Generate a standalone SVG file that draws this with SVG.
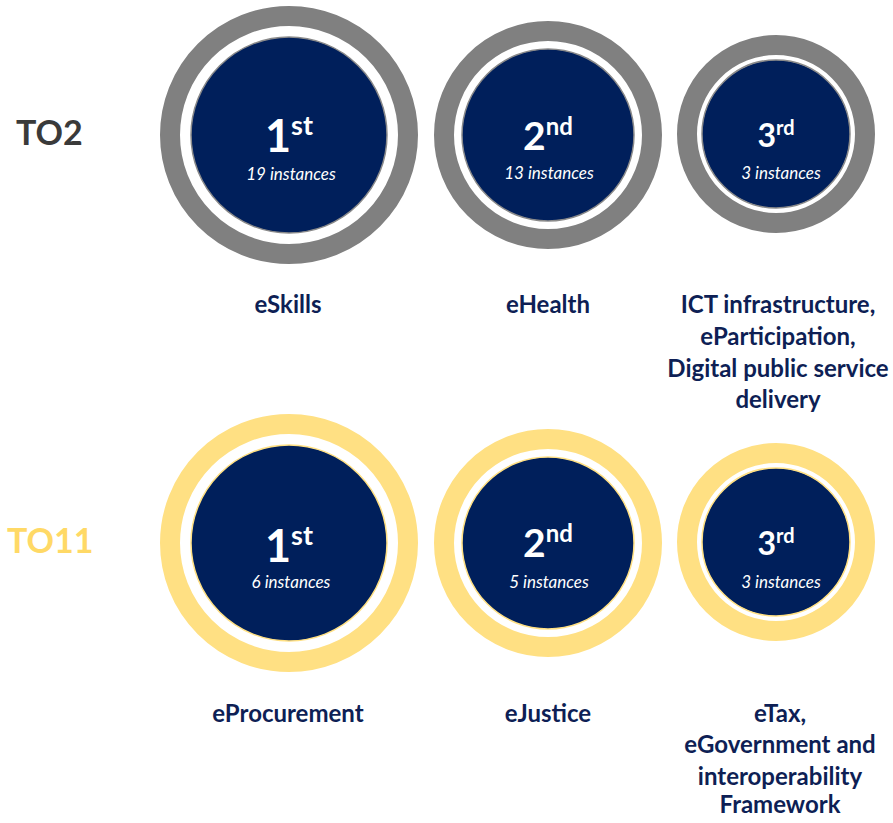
<svg xmlns="http://www.w3.org/2000/svg" width="893" height="823" viewBox="0 0 893 823">
<style>
.ring-g{fill:none;stroke:#808080;stroke-width:20}
.ring-y{fill:none;stroke:#FFE083;stroke-width:20}
.core-g{fill:#001F5B;stroke:#8A8A8A;stroke-width:1.5}
.core-y{fill:#001F5B;stroke:#FFE083;stroke-width:1.5}
.rank{font-family:Lato,"Open Sans",sans-serif;font-weight:700;fill:#FFFFFF;text-anchor:middle}
.inst{font-family:Lato,"Open Sans",sans-serif;font-style:italic;font-size:17px;fill:#FFFFFF;text-anchor:middle}
.lbl{font-family:Lato,"Open Sans",sans-serif;font-weight:700;font-size:24px;fill:#0E1F55;text-anchor:middle}
.row{font-family:Lato,"Open Sans",sans-serif;font-weight:700;font-size:34px}
</style>
<rect width="893" height="823" fill="#FFFFFF"/>
<g id="row-labels">
<text class="row" x="16" y="145" fill="#3A3A3A">TO2</text>
<text class="row" x="7" y="553" fill="#FFD966">TO11</text>
</g>
<g id="to2-1st">
<circle class="ring-g" cx="289" cy="135" r="119"/>
<circle class="core-g" cx="289" cy="135" r="98"/>
<text class="rank" x="289" y="152" font-size="45">1<tspan font-size="27" dy="-17">st</tspan></text>
<text class="inst" x="291" y="180">19 instances</text>
<text class="lbl" x="288" y="313">eSkills</text>
</g>
<g id="to2-2nd">
<circle class="ring-g" cx="548" cy="135" r="104"/>
<circle class="core-g" cx="548" cy="135" r="86"/>
<text class="rank" x="548" y="150" font-size="39">2<tspan font-size="24" dy="-15">nd</tspan></text>
<text class="inst" x="549" y="179">13 instances</text>
<text class="lbl" x="548" y="313">eHealth</text>
</g>
<g id="to2-3rd">
<circle class="ring-g" cx="776" cy="134" r="89"/>
<circle class="core-g" cx="776" cy="134" r="74"/>
<text class="rank" x="776" y="147" font-size="32">3<tspan font-size="20" dy="-12">rd</tspan></text>
<text class="inst" x="781" y="179">3 instances</text>
<text class="lbl" x="778" y="313">ICT infrastructure,</text>
<text class="lbl" x="778" y="345">eParticipation,</text>
<text class="lbl" x="778" y="377">Digital public service</text>
<text class="lbl" x="778" y="408">delivery</text>
</g>
<g id="to11-1st">
<circle class="ring-y" cx="289" cy="543" r="119"/>
<circle class="core-y" cx="289" cy="543" r="98"/>
<text class="rank" x="289" y="562" font-size="45">1<tspan font-size="27" dy="-17">st</tspan></text>
<text class="inst" x="291" y="588">6 instances</text>
<text class="lbl" x="288" y="722">eProcurement</text>
</g>
<g id="to11-2nd">
<circle class="ring-y" cx="548" cy="543" r="104"/>
<circle class="core-y" cx="548" cy="543" r="86"/>
<text class="rank" x="548" y="557" font-size="39">2<tspan font-size="24" dy="-15">nd</tspan></text>
<text class="inst" x="549" y="588">5 instances</text>
<text class="lbl" x="548" y="722">eJustice</text>
</g>
<g id="to11-3rd">
<circle class="ring-y" cx="776" cy="542" r="89"/>
<circle class="core-y" cx="776" cy="542" r="74"/>
<text class="rank" x="776" y="555" font-size="32">3<tspan font-size="20" dy="-12">rd</tspan></text>
<text class="inst" x="781" y="588">3 instances</text>
<text class="lbl" x="780" y="722">eTax,</text>
<text class="lbl" x="780" y="753">eGovernment and</text>
<text class="lbl" x="780" y="785">interoperability</text>
<text class="lbl" x="780" y="813">Framework</text>
</g>
<g id="connectors"/>
</svg>
